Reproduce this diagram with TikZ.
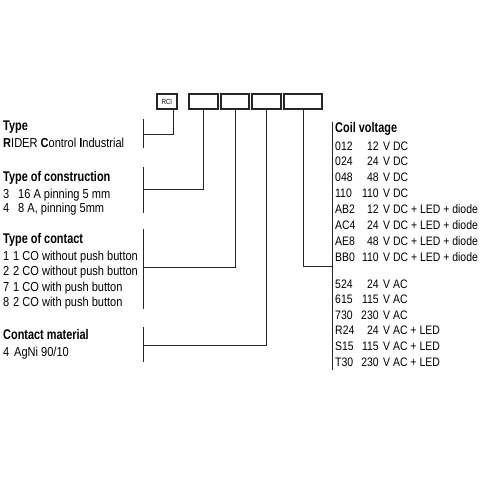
\documentclass[tikz,border=0pt]{standalone}
\usepackage{fontspec}
\setmainfont{Liberation Sans}[FakeStretch=0.85]
\newfontfamily\headfont{Liberation Sans}[FakeStretch=0.78]
\usepackage{tikz}

\newcommand{\coilrow}[3]{\makebox[48pt][l]{#1}\llap{#2\hspace{4.5pt}}#3}

\begin{document}
\begin{tikzpicture}[x=1pt,y=-1pt,
    txt/.style={anchor=base west,inner sep=0pt,font=\fontsize{13}{15}\selectfont,text=black},
    coil/.style={txt,font=\fontsize{12.3}{14}\selectfont},
    head/.style={anchor=base west,inner sep=0pt,font=\headfont\bfseries\fontsize{14}{16}\selectfont,text=black},
    cell/.style={draw=black!85,line width=1.2pt,inner sep=0pt,minimum height=15pt},
    link/.style={draw=black!85,line width=0.9pt}]
    \useasboundingbox (0,0) rectangle (480,480);

    % Code boxes
    \node[cell,minimum width=20pt,font=\fontsize{7.5}{8}\selectfont\headfont] (rci) at (167,101.5) {RCI};
    \node[cell,minimum width=29pt] (box2) at (203.5,101.5) {};
    \node[cell,minimum width=28pt] (box3) at (235,101.5) {};
    \node[cell,minimum width=29pt] (box4) at (266.5,101.5) {};
    \node[cell,minimum width=38pt] (box5) at (303,101.5) {};

    % Bracket points
    \coordinate (btype) at (143,134);
    \coordinate (bconstr) at (143,189);
    \coordinate (bcontact) at (143,267);
    \coordinate (bmat) at (143,345);
    \coordinate (bcoil) at (332,266);

    % Brackets
    \draw[link] (143,119) -- (143,148);
    \draw[link] (143,167) -- (143,213);
    \draw[link] (143,229) -- (143,309);
    \draw[link] (143,327) -- (143,362);
    \draw[link] (332,122) -- (332,370);

    % Connectors
    \draw[link] ([xshift=6pt]rci.south) |- (btype);
    \draw[link] (box2.south) |- (bconstr);
    \draw[link] (box3.south) |- (bcontact);
    \draw[link] (box4.south) |- (bmat);
    \draw[link] (box5.south) |- (bcoil);

    % Type
    \node[head] (type) at (3,130) {Type};
    \node[txt] (rider) at (3,147) {\textbf{R}IDER \textbf{C}ontrol \textbf{I}ndustrial};

    % Type of construction
    \node[head] (constr) at (3,181) {Type of construction};
    \node[txt] (con3) at (3,198) {\makebox[15pt][l]{3}16 A pinning 5 mm};
    \node[txt] (con4) at (3,212.5) {\makebox[15pt][l]{4}8 A, pinning 5mm};

    % Type of contact
    \node[head] (contact) at (3,243) {Type of contact};
    \node[txt] (ct1) at (3,260) {\makebox[10pt][l]{1}1 CO without push button};
    \node[txt] (ct2) at (3,275.5) {\makebox[10pt][l]{2}2 CO without push button};
    \node[txt] (ct7) at (3,291) {\makebox[10pt][l]{7}1 CO with push button};
    \node[txt] (ct8) at (3,306.5) {\makebox[10pt][l]{8}2 CO with push button};

    % Contact material
    \node[head] (mat) at (3,339) {Contact material};
    \node[txt] (mat4) at (3,356) {\makebox[11pt][l]{4}AgNi 90/10};

    % Coil voltage
    \node[head] (coilv) at (335,132) {Coil voltage};
    \node[coil] (v012) at (335,150) {\coilrow{012}{12}{V DC}};
    \node[coil] (v024) at (335,165.9) {\coilrow{024}{24}{V DC}};
    \node[coil] (v048) at (335,181.7) {\coilrow{048}{48}{V DC}};
    \node[coil] (v110) at (335,197.6) {\coilrow{110}{110}{V DC}};
    \node[coil] (vab2) at (335,213.4) {\coilrow{AB2}{12}{V DC + LED + diode}};
    \node[coil] (vac4) at (335,229.3) {\coilrow{AC4}{24}{V DC + LED + diode}};
    \node[coil] (vae8) at (335,245.2) {\coilrow{AE8}{48}{V DC + LED + diode}};
    \node[coil] (vbb0) at (335,261) {\coilrow{BB0}{110}{V DC + LED + diode}};

    \node[coil] (v524) at (335,288) {\coilrow{524}{24}{V AC}};
    \node[coil] (v615) at (335,303.6) {\coilrow{615}{115}{V AC}};
    \node[coil] (v730) at (335,319.2) {\coilrow{730}{230}{V AC}};
    \node[coil] (vr24) at (335,334.8) {\coilrow{R24}{24}{V AC + LED}};
    \node[coil] (vs15) at (335,350.4) {\coilrow{S15}{115}{V AC + LED}};
    \node[coil] (vt30) at (335,366) {\coilrow{T30}{230}{V AC + LED}};
\end{tikzpicture}
\end{document}
